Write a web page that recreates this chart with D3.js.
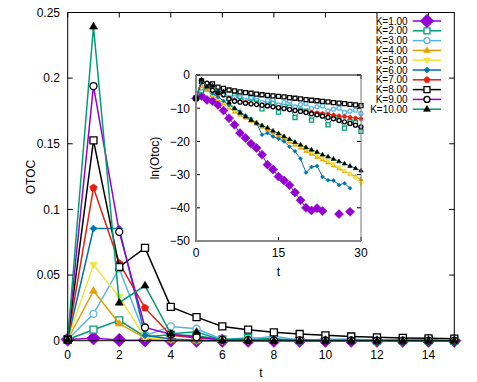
<!DOCTYPE html>
<html>
<head>
<meta charset="utf-8">
<script src="https://cdn.jsdelivr.net/npm/d3@7"></script>
<style>
  body { margin: 0; background: #fff; }
  svg text { font-family: "Liberation Sans", Arial, sans-serif; fill: #000; }
</style>
</head>
<body>
<div id="chart"></div>
<script>
// time steps (inset runs to 30, main plot shows up to 15)
var tValues = d3.range(0, 31);

var kLabels = ["K=1.00", "K=2.00", "K=3.00", "K=4.00", "K=5.00",
               "K=6.00", "K=7.00", "K=8.00", "K=9.00", "K=10.00"];

// ln(Otoc), null = point missing
var lnK1 = [-7.0, -6.3, -7.5, -7.8, -9.0, -10.7, -13.0, -15.0, -17.5, -19.0, -20.7, -22.0, -24.0, -27.0, -28.5, -30.6,
            -31.8, -33.2, -35.4, -37.7, -40.0, -40.8, -40.1, -41.0, null, null, -41.9, null, -41.2, null, null];
var lnK2 = [-7.0, -4.78, -4.17, -5.8, -5.4, -5.6, -7.0, -6.2, -6.5, -8.2, -7.0, -7.3, -10.2, -8.2, -8.5, -11.2,
            -9.4, -9.7, -12.8, -10.6, -10.9, -13.6, -11.8, -12.1, -15.0, -12.9, -13.2, -16.0, -14.0, -14.3, -17.0];
var lnK3 = [-7.0, -3.89, -2.9, -5.57, -4.52, -4.7, -7.0, -6.8, -5.7, -7.6, -6.9, -6.6, -8.3, -7.6, -7.3, -9.0,
            -8.3, -7.9, -9.6, -8.9, -8.6, -10.1, -9.6, -9.3, -10.8, -10.3, -10.0, -11.3, -10.9, -10.6, -11.6];
var lnK4 = [-7.0, -3.27, -4.34, -6.2, -7.3, -8.6, -9.9, -11.1, -12.0, -12.9, -13.8, -14.7, -15.6, -16.5, -17.4, -18.3,
            -19.2, -20.1, -21.0, -21.9, -22.9, -23.8, -24.7, -25.5, -26.4, -27.3, -28.2, -29.0, -29.8, -30.6, -31.5];
var lnK5 = [-7.0, -2.85, -3.4, -6.0, -7.0, -8.3, -9.5, -10.6, -11.5, -12.4, -13.3, -14.2, -15.1, -16.0, -16.9, -17.8,
            -18.7, -19.6, -20.5, -21.4, -22.3, -23.2, -24.1, -25.0, -25.9, -26.8, -27.8, -28.8, -29.9, -31.0, -32.8];
var lnK6 = [-7.0, -2.46, -2.46, -5.5, -6.6, -7.8, -9.0, -10.0, -11.0, -12.2, -13.2, -14.5, -18.0, -17.5, -18.5, -19.2,
            -20.0, -21.6, -23.0, -25.2, -29.4, -27.7, -27.4, -30.7, -31.7, -31.8, -33.1, -32.6, -34.1, null, null];
var lnK7 = [-7.0, -2.15, -2.83, -3.69, -5.5, -6.2, -7.0, -7.5, -7.9, -8.2, -8.5, -8.8, -9.1, -9.4, -9.7, -10.0,
            -10.2, -10.4, -10.6, -10.8, -11.0, -11.2, -11.4, -11.6, -11.8, -12.0, -12.3, -12.5, -12.7, -13.0, -13.2];
var lnK8 = [-7.0, -1.88, -2.88, -2.65, -3.66, -4.02, -4.52, -4.78, -5.06, -5.28, -5.5, -5.75, -5.95, -6.15, -6.3, -6.45,
            -6.6, -6.8, -7.0, -7.2, -7.4, -7.6, -7.75, -7.95, -8.1, -8.3, -8.5, -8.65, -8.85, -9.0, -9.2];
var lnK9 = [-7.0, -1.64, -2.49, -4.6, -5.3, -5.9, -7.2, -7.9, -8.2, -8.5, -8.7, -8.9, -9.1, -9.3, -9.6, -9.8,
            -10.1, -10.4, -10.7, -11.0, -11.3, -11.7, -12.0, -12.4, -12.8, -13.2, -13.7, -14.1, -14.6, -15.1, -15.6];
var lnK10 = [-7.0, -1.43, -3.54, -3.17, -5.25, -5.0, -8.3, -10.0, -11.4, -12.5, -13.6, -14.4, -15.2, -15.9, -16.8, -17.6,
             -18.5, -19.3, -20.2, -21.0, -21.8, -22.5, -23.2, -24.0, -24.6, -25.3, -26.0, -26.7, -27.4, -28.1, -28.8];

var lnSeries = [lnK1, lnK2, lnK3, lnK4, lnK5, lnK6, lnK7, lnK8, lnK9, lnK10];

var mainXTicks = [0, 2, 4, 6, 8, 10, 12, 14];
var mainYTicks = [0, 0.05, 0.1, 0.15, 0.2, 0.25];
var insetXTicks = [0, 15, 30];
var insetYTicks = [0, -10, -20, -30, -40, -50];

// gnuplot style per series
var lineColors = ["#9400d3", "#009e73", "#56b4e9", "#e69f00", "#f0e442",
                  "#0072b2", "#e51e10", "#000000", "#9400d3", "#009e73"];
var pointColors = ["#9400d3", "#009e73", "#56b4e9", "#e69f00", "#f0e442",
                   "#0072b2", "#e51e10", "#000000", "#000000", "#000000"];
var pointTypes = ["diamondBig", "square", "circle", "triUp", "triDown",
                  "diamond", "pentagon", "square", "circle", "triUp"];
var openTypes = { square: true, circle: true };

var W = 477, H = 382;
var svg = d3.select("#chart").append("svg")
  .attr("width", W)
  .attr("height", H);

function markerPath(type, s) {
  var r;
  if (type == "square") {
    r = s * 0.5;
    return `M${-r},${-r}h${2 * r}v${2 * r}h${-2 * r}Z`;
  }
  if (type == "circle") {
    r = s * 0.5;
    return `M${r},0A${r},${r} 0 1,1 ${-r},0A${r},${r} 0 1,1 ${r},0Z`;
  }
  if (type == "triUp") {
    r = s * 0.6;
    return `M0,${-r}L${r * 0.95},${r * 0.6}L${-r * 0.95},${r * 0.6}Z`;
  }
  if (type == "triDown") {
    r = s * 0.6;
    return `M0,${r}L${r * 0.95},${-r * 0.6}L${-r * 0.95},${-r * 0.6}Z`;
  }
  if (type == "diamond" || type == "diamondBig") {
    r = type == "diamondBig" ? s * 0.75 : s * 0.5;
    return `M0,${-r}L${r},0L0,${r}L${-r},0Z`;
  }
  // pentagon
  r = s * 0.55;
  var pts = d3.range(5).map(function(i) {
    var a = -Math.PI / 2 + i * 2 * Math.PI / 5;
    return [r * Math.cos(a), r * Math.sin(a)];
  });
  return "M" + pts.map(function(p) { return p.join(","); }).join("L") + "Z";
}

function drawMarkers(g, pts, i, size, x, y) {
  var type = pointTypes[i];
  g.selectAll(null)
    .data(pts)
    .enter()
    .append("path")
    .attr("transform", function(d) { return `translate(${x(d.t)},${y(d.v)})`; })
    .attr("d", markerPath(type, size))
    .style("fill", openTypes[type] ? "#fff" : pointColors[i])
    .style("stroke", pointColors[i])
    .style("stroke-width", openTypes[type] ? 1.3 : 0.6);
}

function drawTicks(g, x, y, xTicks, yTicks, len) {
  var x0 = x.range()[0], x1 = x.range()[1];
  var y0 = y.range()[0], y1 = y.range()[1];
  xTicks.forEach(function(t) {
    g.append("line").attr("x1", x(t)).attr("x2", x(t)).attr("y1", y0).attr("y2", y0 - len);
    g.append("line").attr("x1", x(t)).attr("x2", x(t)).attr("y1", y1).attr("y2", y1 + len);
  });
  yTicks.forEach(function(t) {
    g.append("line").attr("x1", x0).attr("x2", x0 + len).attr("y1", y(t)).attr("y2", y(t));
    g.append("line").attr("x1", x1).attr("x2", x1 - len).attr("y1", y(t)).attr("y2", y(t));
  });
}

// ********** MAIN PLOT ********** //
var x = d3.scaleLinear().domain([0, 15]).range([67.7, 454.3]);
var y = d3.scaleLinear().domain([0, 0.25]).range([340.7, 12.5]);

var mainG = svg.append("g");

lnSeries.forEach(function(arr, i) {
  var pts = [];
  arr.forEach(function(v, k) {
    if (v !== null && tValues[k] <= 15) pts.push({ t: tValues[k], v: Math.exp(v) });
  });
  var line = d3.line()
    .x(function(d) { return x(d.t); })
    .y(function(d) { return y(d.v); });
  mainG.append("path")
    .attr("d", line(pts))
    .style("fill", "none")
    .style("stroke", lineColors[i])
    .style("stroke-width", 1.5);
  drawMarkers(mainG, pts, i, i == 0 ? 9 : 7, x, y);
});

var mainAxes = svg.append("g").style("stroke", "#000").style("stroke-width", 1);
drawTicks(mainAxes, x, y, mainXTicks, mainYTicks, 5);
mainAxes.append("rect")
  .attr("x", 67.7).attr("y", 12.5)
  .attr("width", 454.3 - 67.7).attr("height", 340.7 - 12.5)
  .style("fill", "none");

svg.append("g")
  .selectAll("text")
  .data(mainXTicks)
  .enter()
  .append("text")
  .attr("x", function(d) { return x(d); })
  .attr("y", 359)
  .attr("text-anchor", "middle")
  .style("font-size", "12px")
  .text(function(d) { return d; });

svg.append("g")
  .selectAll("text")
  .data(mainYTicks)
  .enter()
  .append("text")
  .attr("x", 60)
  .attr("y", function(d) { return y(d) + 4.3; })
  .attr("text-anchor", "end")
  .style("font-size", "12px")
  .text(function(d) { return d3.format("~g")(d); });

svg.append("text")
  .attr("x", 261).attr("y", 377)
  .attr("text-anchor", "middle")
  .style("font-size", "12px")
  .text("t");

svg.append("text")
  .attr("transform", "translate(35,177) rotate(-90)")
  .attr("text-anchor", "middle")
  .style("font-size", "12px")
  .text("OTOC");

// ********** INSET ********** //
var ix = d3.scaleLinear().domain([0, 30]).range([196, 361]);
var iy = d3.scaleLinear().domain([-50, 0]).range([241, 75]);

svg.append("rect")
  .attr("x", 196).attr("y", 75)
  .attr("width", 361 - 196).attr("height", 241 - 75)
  .style("fill", "#fff");

var insetG = svg.append("g");
lnSeries.forEach(function(arr, i) {
  var pts = arr.map(function(v, k) { return { t: tValues[k], v: v }; });
  var line = d3.line()
    .defined(function(d) { return d.v !== null; })
    .x(function(d) { return ix(d.t); })
    .y(function(d) { return iy(d.v); });
  insetG.append("path")
    .attr("d", line(pts))
    .style("fill", "none")
    .style("stroke", lineColors[i])
    .style("stroke-width", 1);
  drawMarkers(insetG, pts.filter(function(d) { return d.v !== null; }), i, i == 0 ? 6 : 4, ix, iy);
});

var insetAxes = svg.append("g").style("stroke", "#000").style("stroke-width", 1);
drawTicks(insetAxes, ix, iy, insetXTicks, insetYTicks, 4);
insetAxes.append("line").attr("x1", 196).attr("x2", 361).attr("y1", 75).attr("y2", 75);
insetAxes.append("line").attr("x1", 361).attr("x2", 361).attr("y1", 75).attr("y2", 241)
  .style("stroke", "#777");
insetAxes.append("path")
  .attr("d", "M196,75V241H361")
  .style("fill", "none")
  .style("stroke", "#888")
  .style("stroke-width", 2);

svg.append("g")
  .selectAll("text")
  .data(insetXTicks)
  .enter()
  .append("text")
  .attr("x", function(d) { return ix(d); })
  .attr("y", 257)
  .attr("text-anchor", "middle")
  .style("font-size", "12px")
  .text(function(d) { return d; });

svg.append("g")
  .selectAll("text")
  .data(insetYTicks)
  .enter()
  .append("text")
  .attr("x", 190)
  .attr("y", function(d) { return iy(d) + 4.3; })
  .attr("text-anchor", "end")
  .style("font-size", "12px")
  .text(function(d) { return d3.format("d")(d); });

svg.append("text")
  .attr("x", 278.5).attr("y", 276)
  .attr("text-anchor", "middle")
  .style("font-size", "12px")
  .text("t");

svg.append("text")
  .attr("transform", "translate(159,158) rotate(-90)")
  .attr("text-anchor", "middle")
  .style("font-size", "12px")
  .text("ln(Otoc)");

// ********** LEGEND ********** //
var legend = svg.append("g");
kLabels.forEach(function(lab, i) {
  var ly = 21 + i * 9.8;
  legend.append("text")
    .attr("x", 407.7).attr("y", ly + 3.6)
    .attr("text-anchor", "end")
    .style("font-size", "10px")
    .text(lab);
  legend.append("line")
    .attr("x1", 412.7).attr("x2", 441)
    .attr("y1", ly).attr("y2", ly)
    .style("stroke", lineColors[i])
    .style("stroke-width", 1.5);
  drawMarkers(legend, [{ t: 0, v: 0 }], i, i == 0 ? 9 : 6,
    function() { return 427; }, function() { return ly; });
});
</script>
</body>
</html>
